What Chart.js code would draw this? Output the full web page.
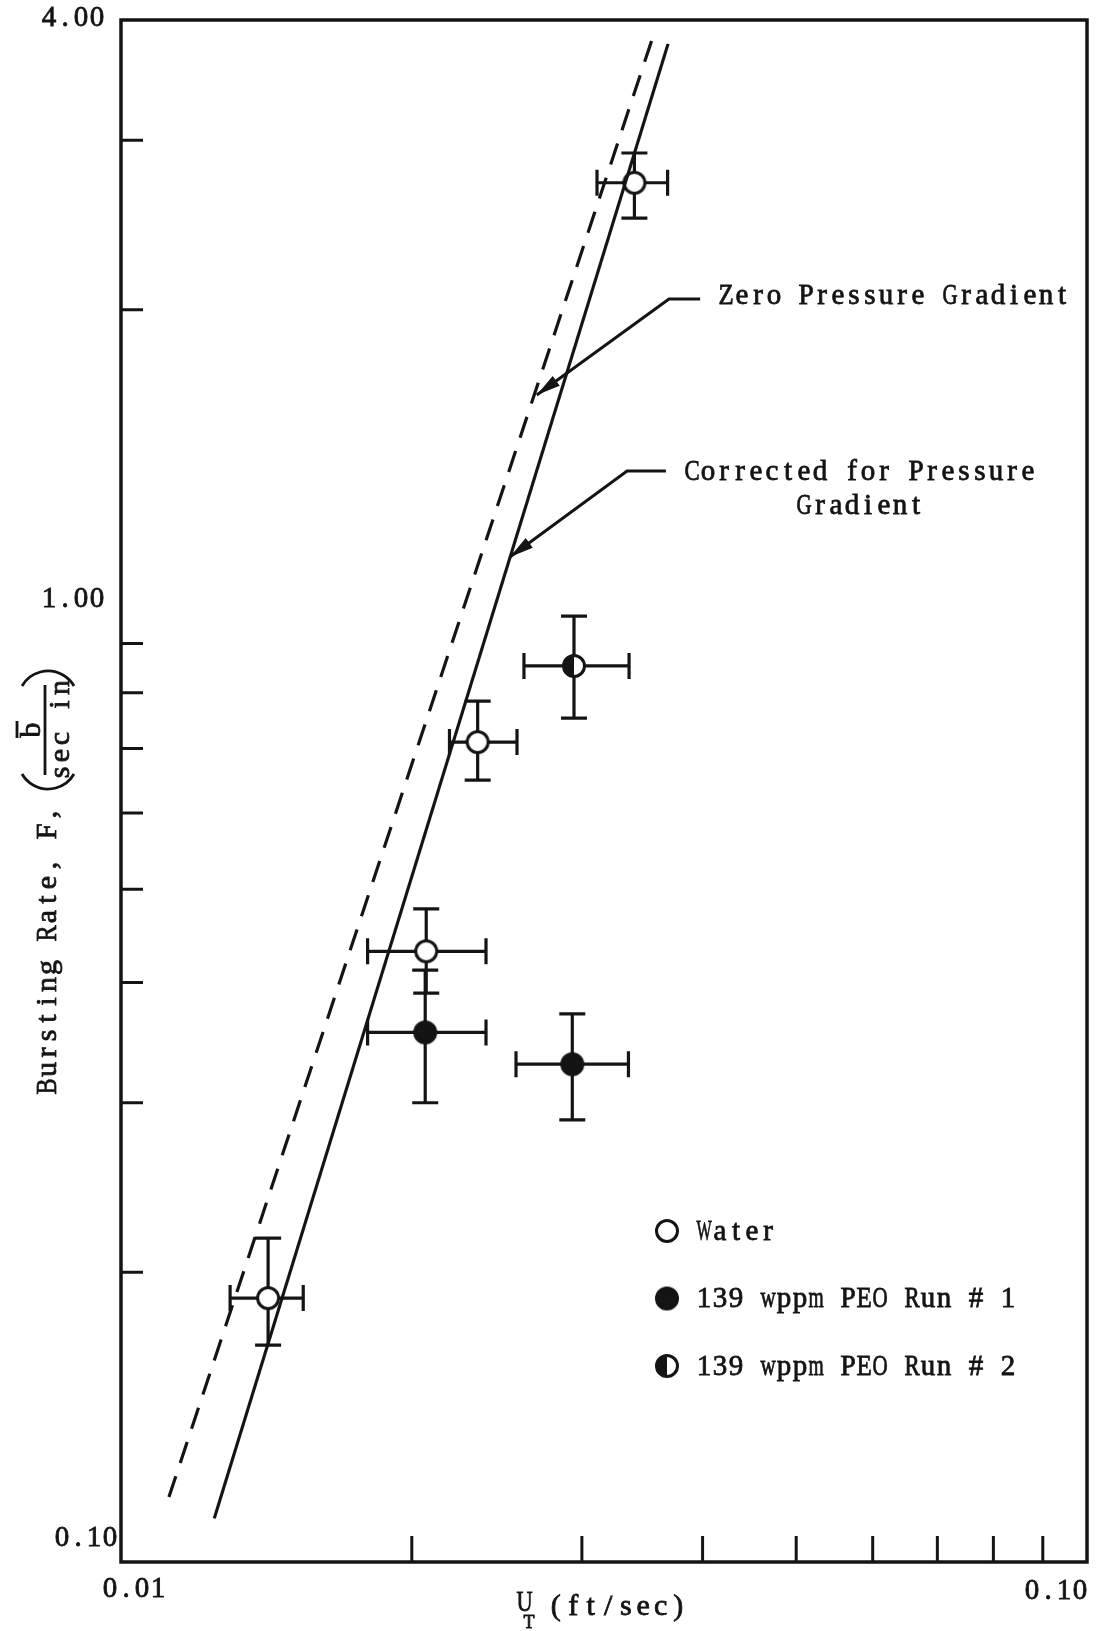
<!DOCTYPE html>
<html>
<head>
<meta charset="utf-8">
<title>Bursting Rate vs U_T</title>
<script src="https://cdn.jsdelivr.net/npm/chart.js@4.4.1/dist/chart.umd.min.js"></script>
<style>
  html, body { margin: 0; padding: 0; background: #fff; }
  #wrap { width: 1104px; height: 1631px; position: relative; }
</style>
</head>
<body>
<div id="wrap"><canvas id="burstChart"></canvas></div>
<script>
// Water runs: U_T (ft/sec) vs bursting rate F, with error ranges
const waterX = [0.0142, 0.0207, 0.0234, 0.0340];
const waterY = [0.188, 0.431, 0.711, 2.71];
const waterXLo = [0.01297, 0.0180, 0.02188, 0.0311];
const waterXHi = [0.01544, 0.02387, 0.0257, 0.0368];
const waterYLo = [0.168, 0.390, 0.649, 2.49];
const waterYHi = [0.217, 0.477, 0.784, 2.91];

// 139 wppm PEO, run 1
const run1X = [0.02065, 0.02932];
const run1Y = [0.355, 0.329];
const run1XLo = [0.0180, 0.02564];
const run1XHi = [0.02387, 0.03352];
const run1YLo = [0.300, 0.288];
const run1YHi = [0.412, 0.371];

// 139 wppm PEO, run 2
const run2X = [0.02944];
const run2Y = [0.853];
const run2XLo = [0.02613];
const run2XHi = [0.03357];
const run2YLo = [0.753];
const run2YHi = [0.961];

// Correlation lines (end points)
const zeroGradX = [0.01121, 0.0357];
const zeroGradY = [0.1168, 3.897];
const correctedX = [0.01249, 0.03684];
const correctedY = [0.1110, 3.778];

// Axis ticks and labels
const xTicks = [0.02, 0.03, 0.04, 0.05, 0.06, 0.07, 0.08, 0.09];
const yTicks = [0.2, 0.3, 0.4, 0.5, 0.6, 0.7, 0.8, 0.9, 2, 3];
const xLabelValues = [0.01, 0.1];
const xLabelText = ["0.01", "0.10"];
const yLabelValues = [0.1, 1, 4];
const yLabelText = ["0.10", "1.00", "4.00"];

const seriesNames = ["Water", "139 wppm PEO Run # 1", "139 wppm PEO Run # 2"];

const INK = "#141414";
const SERIF = "'Liberation Serif', 'DejaVu Serif', serif";
const FONT = `29px ${SERIF}`;
const PITCH = 16;

const toPoints = (xs, ys) => xs.map((v, i) => ({ x: v, y: ys[i] }));

// Typewriter-style text: every character sits in a fixed-width cell
function typeText(ctx, str, x, y, align = "left", pitch = PITCH) {
  const total = str.length * pitch;
  const start = align === "left" ? x : align === "right" ? x - total : x - total / 2;
  const fit = pitch * 0.95;
  ctx.save();
  ctx.textAlign = "center";
  ctx.lineWidth = 0.8;
  ctx.strokeStyle = INK;
  [...str].forEach((ch, i) => {
    if (ch === " ") return;
    const cx = start + (i + 0.5) * pitch;
    const w = ctx.measureText(ch).width;
    ctx.save();
    ctx.translate(cx, y);
    if (w > fit) ctx.scale(fit / w, 1);
    ctx.fillText(ch, 0, 0);
    ctx.strokeText(ch, 0, 0);
    ctx.restore();
  });
  ctx.restore();
  return total;
}

// open / filled / half-filled circle markers
function makeMarker(kind) {
  const c = document.createElement("canvas");
  c.width = 30;
  c.height = 30;
  const g = c.getContext("2d");
  const r = 10.5;
  g.lineWidth = 3;
  g.strokeStyle = INK;
  g.beginPath();
  g.arc(15, 15, r, 0, Math.PI * 2);
  g.fillStyle = kind === "filled" ? INK : "#fff";
  g.fill();
  if (kind === "half") {
    g.beginPath();
    g.moveTo(15, 15);
    g.arc(15, 15, r, Math.PI / 2, Math.PI * 1.5);
    g.closePath();
    g.fillStyle = INK;
    g.fill();
  }
  g.beginPath();
  g.arc(15, 15, r, 0, Math.PI * 2);
  g.stroke();
  return c;
}

const markers = [makeMarker("open"), makeMarker("filled"), makeMarker("half")];

const errorSets = [
  { x: waterX, y: waterY, xLo: waterXLo, xHi: waterXHi, yLo: waterYLo, yHi: waterYHi },
  { x: run1X, y: run1Y, xLo: run1XLo, xHi: run1XHi, yLo: run1YLo, yHi: run1YHi },
  { x: run2X, y: run2Y, xLo: run2XLo, xHi: run2XHi, yLo: run2YLo, yHi: run2YHi },
];

// Error bars go under the markers
const errorBarPlugin = {
  id: "errorBars",
  beforeDatasetsDraw(chart) {
    const { ctx, scales: { x, y } } = chart;
    const cap = 13;
    ctx.save();
    ctx.strokeStyle = INK;
    ctx.lineWidth = 3.2;
    ctx.lineCap = "butt";
    errorSets.forEach((s) => {
      s.x.forEach((xv, i) => {
        const px = x.getPixelForValue(xv);
        const py = y.getPixelForValue(s.y[i]);
        const x0 = x.getPixelForValue(s.xLo[i]);
        const x1 = x.getPixelForValue(s.xHi[i]);
        const y0 = y.getPixelForValue(s.yLo[i]);
        const y1 = y.getPixelForValue(s.yHi[i]);
        ctx.beginPath();
        ctx.moveTo(x0, py); ctx.lineTo(x1, py);
        ctx.moveTo(x0, py - cap); ctx.lineTo(x0, py + cap);
        ctx.moveTo(x1, py - cap); ctx.lineTo(x1, py + cap);
        ctx.moveTo(px, y0); ctx.lineTo(px, y1);
        ctx.moveTo(px - cap, y0); ctx.lineTo(px + cap, y0);
        ctx.moveTo(px - cap, y1); ctx.lineTo(px + cap, y1);
        ctx.stroke();
      });
    });
    ctx.restore();
  },
};

// Arrow callouts, anchored in data units: [leader end, elbow, tip]
const callouts = [
  { pts: [[0.03977, 2.052], [0.03692, 2.052], [0.02694, 1.631]], text: ["Zero Pressure Gradient"], tx: 718, ty: 296 },
  { pts: [[0.03665, 1.360], [0.03341, 1.360], [0.02527, 1.107]], text: ["Corrected for Pressure", "Gradient"], tx: 684, ty: 472 },
];

function arrowHead(ctx, fx, fy, tx, ty) {
  const ang = Math.atan2(ty - fy, tx - fx);
  const len = 24, half = 6;
  ctx.beginPath();
  ctx.moveTo(tx, ty);
  ctx.lineTo(tx - len * Math.cos(ang) + half * Math.sin(ang), ty - len * Math.sin(ang) - half * Math.cos(ang));
  ctx.lineTo(tx - len * Math.cos(ang) - half * Math.sin(ang), ty - len * Math.sin(ang) + half * Math.cos(ang));
  ctx.closePath();
  ctx.fill();
}

const frameAndTextPlugin = {
  id: "frameAndText",
  afterDraw(chart) {
    const { ctx, chartArea: a, scales: { x, y } } = chart;
    ctx.save();
    ctx.strokeStyle = INK;
    ctx.fillStyle = INK;

    // frame
    ctx.lineWidth = 3.5;
    ctx.strokeRect(a.left, a.top, a.right - a.left, a.bottom - a.top);

    // inward ticks
    ctx.lineWidth = 3;
    ctx.beginPath();
    xTicks.forEach((v) => {
      const px = x.getPixelForValue(v);
      ctx.moveTo(px, a.bottom);
      ctx.lineTo(px, a.bottom - 26);
    });
    yTicks.forEach((v) => {
      const py = y.getPixelForValue(v);
      ctx.moveTo(a.left, py);
      ctx.lineTo(a.left + 22, py);
    });
    ctx.stroke();

    ctx.font = FONT;
    ctx.textBaseline = "middle";

    // y tick labels
    yLabelValues.forEach((v, i) => {
      let py = y.getPixelForValue(v);
      let px = a.left - 16;
      if (i === 0) { py -= 24; px = a.left - 3; }
      if (i === yLabelValues.length - 1) py -= 2;
      typeText(ctx, yLabelText[i], px, py, "right");
    });

    // x tick labels
    xLabelValues.forEach((v, i) => {
      const px = x.getPixelForValue(v);
      if (i === 0) typeText(ctx, xLabelText[i], px + 13, a.bottom + 27, "center");
      else typeText(ctx, xLabelText[i], px + 1, a.bottom + 29, "right");
    });

    // x axis title: U_T (ft/sec)
    ctx.font = `30px ${SERIF}`;
    typeText(ctx, "U", 516, a.bottom + 41, "left", 17);
    typeText(ctx, "(ft/sec)", 547, a.bottom + 45, "left", 17.5);
    ctx.font = `18px ${SERIF}`;
    typeText(ctx, "T", 523, a.bottom + 61, "left", 12);

    // y axis title, rotated
    ctx.save();
    ctx.translate(48, 1095);
    ctx.rotate(-Math.PI / 2);
    ctx.font = `30px ${SERIF}`;
    typeText(ctx, "Bursting Rate, F,", 0, 0, "left", 17);
    ctx.lineWidth = 2.8;
    // big parentheses
    ctx.beginPath();
    ctx.arc(336, 0, 30, Math.PI - Math.PI / 3, Math.PI + Math.PI / 3);
    ctx.stroke();
    ctx.beginPath();
    ctx.arc(394, 0, 30, -Math.PI / 3, Math.PI / 3);
    ctx.stroke();
    // fraction: b-bar over sec in
    ctx.beginPath();
    ctx.moveTo(320, -3);
    ctx.lineTo(410, -3);
    ctx.stroke();
    typeText(ctx, "b", 365, -16, "center", 17);
    ctx.beginPath();
    ctx.moveTo(357, -31);
    ctx.lineTo(374, -31);
    ctx.stroke();
    typeText(ctx, "sec in", 365, 13, "center", 17);
    ctx.restore();

    // callouts
    ctx.lineWidth = 3;
    ctx.font = FONT;
    callouts.forEach((c) => {
      const p = c.pts.map(([vx, vy]) => [x.getPixelForValue(vx), y.getPixelForValue(vy)]);
      ctx.beginPath();
      ctx.moveTo(p[0][0], p[0][1]);
      ctx.lineTo(p[1][0], p[1][1]);
      ctx.lineTo(p[2][0], p[2][1]);
      ctx.stroke();
      arrowHead(ctx, p[1][0], p[1][1], p[2][0], p[2][1]);
      const w0 = typeText(ctx, c.text[0], c.tx, c.ty, "left");
      if (c.text[1]) typeText(ctx, c.text[1], c.tx + w0 / 2, c.ty + 34, "center");
    });

    // legend
    seriesNames.forEach((name, i) => {
      const ly = 1231 + i * 67.5;
      ctx.drawImage(markers[i], 667 - 15, ly - 15);
      typeText(ctx, name, 696, ly + 1, "left");
    });

    ctx.restore();
  },
};

const ctx = document.getElementById("burstChart").getContext("2d");

new Chart(ctx, {
  type: "scatter",
  data: {
    datasets: [
      {
        label: "Zero Pressure Gradient",
        data: toPoints(zeroGradX, zeroGradY),
        showLine: true,
        borderColor: INK,
        borderWidth: 3.2,
        borderDash: [22, 14],
        pointRadius: 0,
        order: 0,
      },
      {
        label: "Corrected for Pressure Gradient",
        data: toPoints(correctedX, correctedY),
        showLine: true,
        borderColor: INK,
        borderWidth: 3.2,
        pointRadius: 0,
        order: 0,
      },
      {
        label: seriesNames[0],
        data: toPoints(waterX, waterY),
        pointStyle: markers[0],
        order: 1,
      },
      {
        label: seriesNames[1],
        data: toPoints(run1X, run1Y),
        pointStyle: markers[1],
        order: 1,
      },
      {
        label: seriesNames[2],
        data: toPoints(run2X, run2Y),
        pointStyle: markers[2],
        order: 1,
      },
    ],
  },
  options: {
    responsive: true,
    maintainAspectRatio: false,
    animation: false,
    devicePixelRatio: 1,
    layout: { padding: { left: 121, right: 17, top: 20, bottom: 69 } },
    scales: {
      x: { type: "logarithmic", min: 0.01, max: 0.1, display: false },
      y: { type: "logarithmic", min: 0.1, max: 4, display: false },
    },
    plugins: {
      legend: { display: false },
      tooltip: { enabled: false },
    },
  },
  plugins: [errorBarPlugin, frameAndTextPlugin],
});
</script>
</body>
</html>
